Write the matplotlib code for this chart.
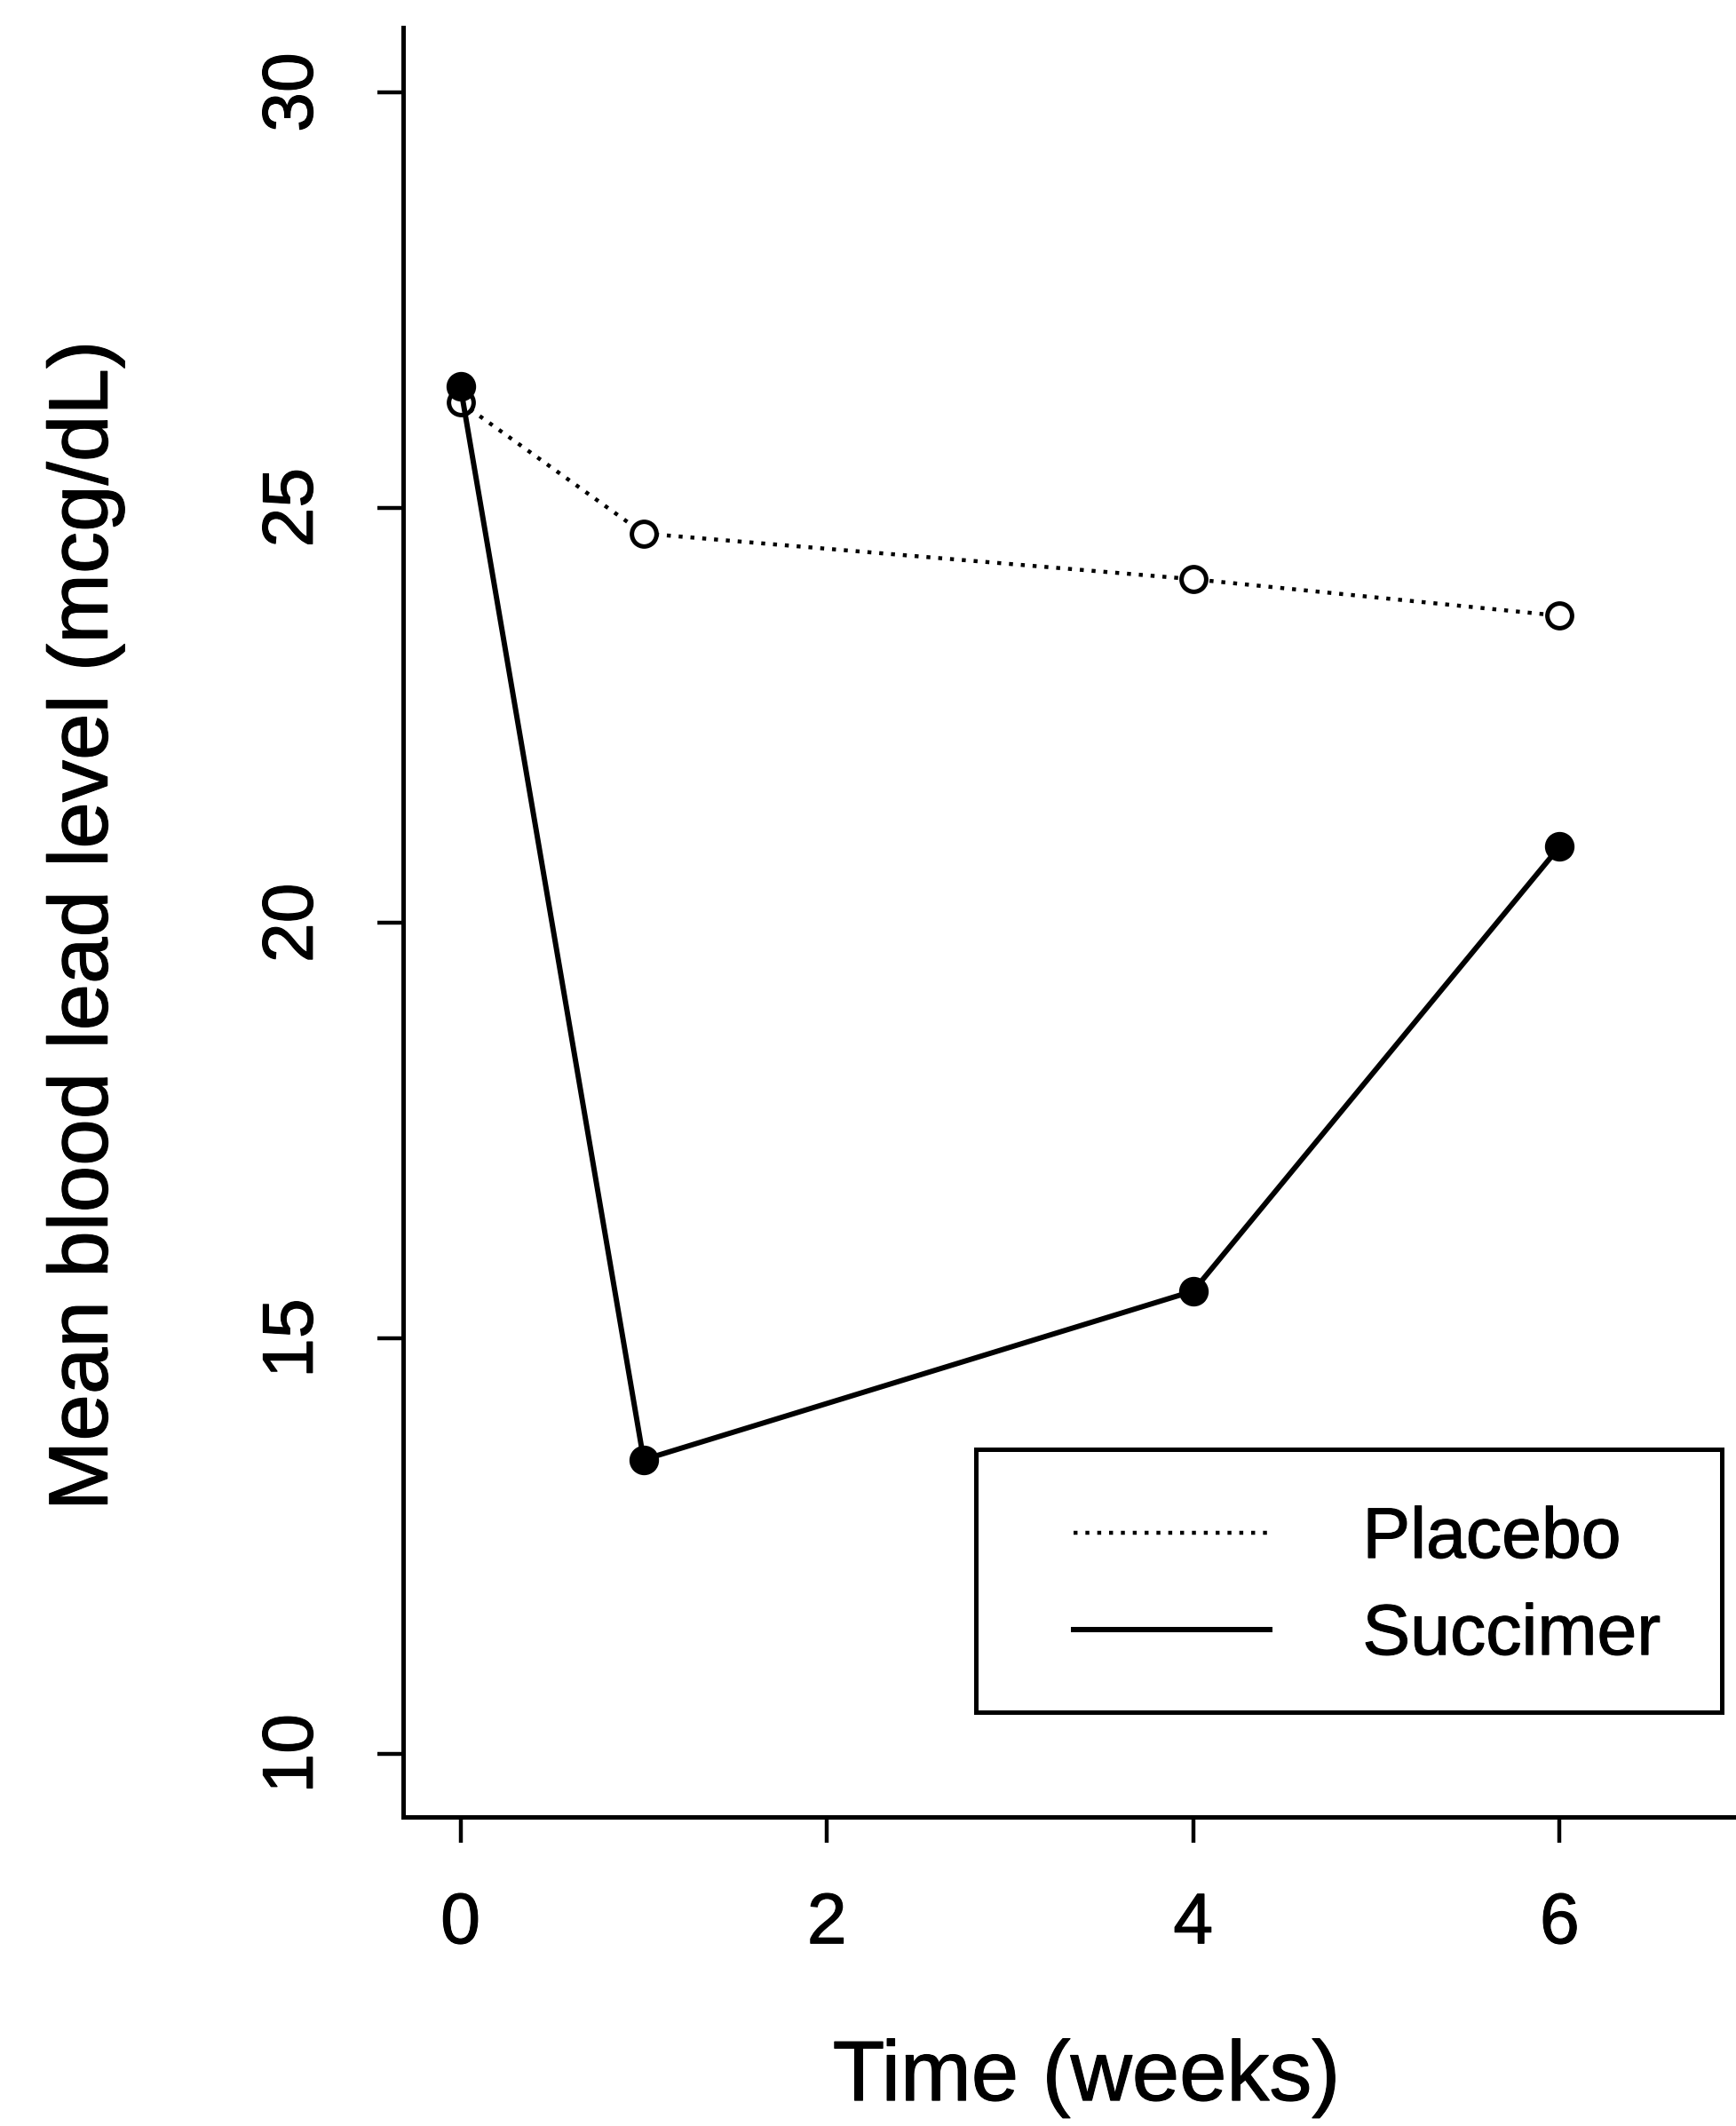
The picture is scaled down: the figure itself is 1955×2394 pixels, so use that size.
import matplotlib
matplotlib.use("Agg")
import matplotlib.pyplot as plt
import matplotlib.patheffects as pe
from matplotlib.patches import Rectangle

plt.rcParams['font.family'] = ['Liberation Sans', 'DejaVu Sans']

# mean blood lead levels by treatment group
weeks = [0, 1, 4, 6]
placebo = [26.27, 24.69, 24.14, 23.70]
succimer = [26.46, 13.54, 15.57, 20.92]
group_names = ['Placebo', 'Succimer']

x_ticks = [0, 2, 4, 6]
y_ticks = [10, 15, 20, 25, 30]

# a touch heavier glyphs, like the printed figure
heavy = [pe.withStroke(linewidth=0.8, foreground='black')]

dotted = (0, (1, 2))

fig = plt.figure(figsize=(19.55, 23.94), dpi=100)
ax = fig.add_axes([0.232, 0.1454, 0.768, 0.8416])

ax.plot(weeks, placebo, color='black', lw=3.2, linestyle=dotted,
        dash_capstyle='butt', marker='o', markersize=20,
        markerfacecolor='white', markeredgecolor='black', markeredgewidth=3.6,
        zorder=3)
ax.plot(weeks, succimer, color='black', lw=4.3, linestyle='-',
        marker='o', markersize=23, markerfacecolor='black',
        markeredgecolor='black', zorder=3)

ax.set_xlim(-0.315, 6.963)
ax.set_ylim(9.24, 30.78)
ax.set_xticks(x_ticks)
ax.set_yticks(y_ticks)

for side in ['top', 'right']:
    ax.spines[side].set_visible(False)
for side in ['left', 'bottom']:
    ax.spines[side].set_linewidth(3.6)

ax.tick_params(axis='both', length=21, width=3.2, labelsize=58, direction='out')
ax.tick_params(axis='x', pad=39)
ax.tick_params(axis='y', pad=40)
for lab in ax.get_yticklabels():
    lab.set_rotation(90)
    lab.set_va('center')
for lab in ax.get_xticklabels() + ax.get_yticklabels():
    lab.set_path_effects(heavy)

ax.set_xlabel('Time (weeks)', fontsize=69, path_effects=heavy)
ax.set_ylabel('Mean blood lead level (mcg/dL)', fontsize=68, path_effects=heavy)
ax.xaxis.set_label_coords(0.513, -0.146)
ax.xaxis.label.set_va('center')
ax.yaxis.set_label_coords(-0.238, 0.4985)
ax.yaxis.label.set_va('center')

# legend shows line styles only; its frame is drawn separately
handles = [plt.Line2D([], [], color='black', lw=3.2, linestyle=dotted, dash_capstyle='butt'),
           plt.Line2D([], [], color='black', lw=4.3)]
leg = ax.legend(handles, group_names, loc='center left',
                bbox_to_anchor=(0.6184, 0.2533), bbox_transform=fig.transFigure,
                fontsize=58, frameon=False,
                handlelength=2.75, handletextpad=1.29, borderpad=0,
                labelspacing=0.41, borderaxespad=0)
for txt in leg.get_texts():
    txt.set_path_effects(heavy)

fig.patches.append(Rectangle((0.562, 0.1947), 0.992 - 0.562, 0.3183 - 0.1947,
                             transform=fig.transFigure, fill=False,
                             edgecolor='black', linewidth=3.6, zorder=4))

fig.savefig('out.png', dpi=100)
